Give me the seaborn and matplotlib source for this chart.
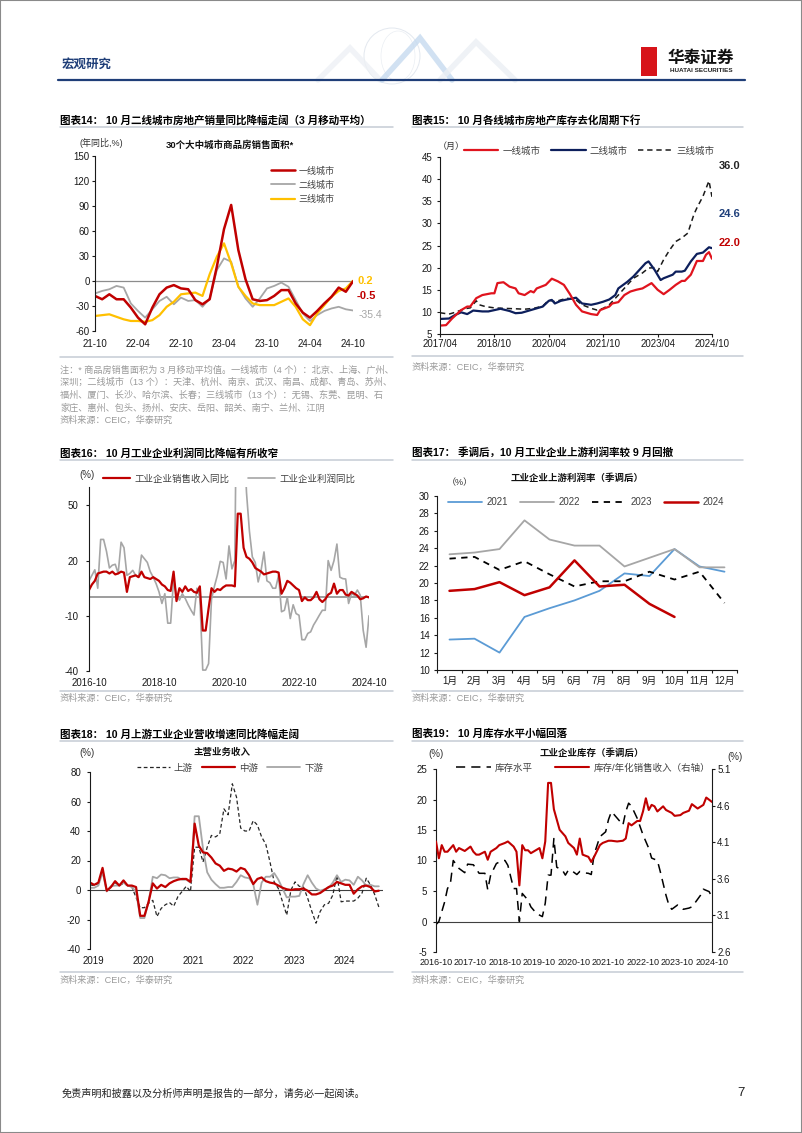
import matplotlib
matplotlib.use("Agg")
import matplotlib.pyplot as plt
import seaborn as sns
import numpy as np
from matplotlib.lines import Line2D
from matplotlib.patches import Rectangle, Ellipse

# ---------------- data ----------------
# 图表14: 30个大中城市商品房销售面积 (年同比, 3月移动平均), 2021-10 .. 2024-10
c14_ticks = ['21-10', '22-04', '22-10', '23-04', '23-10', '24-04', '24-10']
c14_tier1 = [-18, -22, -16, -22, -22, -32, -44, -52, -32, -16, -8, -5, -9, -10, -23, -28, -22, 17, 62,
             91, 37, 2, -22, -24, -23, -18, -11, -11, -27, -38, -44, -36, -27, -19, -8, -13, -0.5]
c14_tier2 = [-15, -12, -10, -6, -8, -27, -36, -44, -34, -24, -19, -28, -20, -24, -23, -31, -21, 13, 27,
             23, -7, -21, -31, -21, -9, -6, -2, -7, -23, -39, -48, -41, -36, -33, -31, -34, -35.4]
c14_tier3 = [-42, -41, -40, -43, -46, -48, -48, -49, -47, -41, -31, -25, -16, -15, -14, -18, 8, 29, 45,
             21, -7, -18, -27, -29, -29, -29, -25, -21, -31, -46, -53, -39, -29, -19, -12, -9, 0.2]

# 图表15: 库存去化周期 (月), month offset from 2017-04
c15_ticks = ['2017/04', '2018/10', '2020/04', '2021/10', '2023/04', '2024/10']
c15_t1_m = [0, 2, 4, 7, 9, 10, 12, 14, 17, 18, 19, 21, 23, 25, 26, 28, 30, 31, 32, 35, 37, 39, 41, 43, 45,
            47, 50, 52, 53, 56, 57, 59, 61, 63, 65, 67, 68, 70, 72, 74, 76, 78, 80, 81, 83, 85, 87, 88, 89, 90]
c15_t1_v = [6.9, 7.0, 8.5, 10.4, 11.2, 11.2, 13.1, 13.8, 14.2, 14.2, 16.5, 16.7, 15.7, 15.3, 14.2, 13.8,
            14.7, 14.4, 15.3, 16.1, 17.5, 16.9, 16.1, 14.0, 11.6, 10.1, 9.5, 9.3, 10.4, 11.2, 11.9, 12.2,
            13.8, 14.6, 15.0, 15.3, 15.7, 16.5, 15.0, 14.0, 15.0, 16.1, 17.0, 17.0, 18.4, 21.5, 21.5, 22.9,
            23.5, 22.0]
c15_t2_m = [0, 3, 5, 7, 9, 11, 14, 16, 18, 20, 23, 25, 27, 29, 31, 34, 36, 37, 38, 40, 42, 45, 47, 50, 52,
            54, 56, 58, 59, 62, 64, 66, 68, 69, 71, 73, 74, 77, 78, 80, 81, 83, 85, 87, 89, 90]
c15_t2_v = [8.4, 8.5, 9.3, 9.9, 9.5, 10.3, 10.1, 10.1, 10.4, 10.7, 10.2, 9.7, 9.8, 10.2, 10.6, 11.2, 12.5,
            12.7, 11.9, 12.5, 12.8, 13.2, 11.9, 11.6, 11.9, 12.3, 12.8, 13.8, 15.3, 16.8, 18.0, 19.5, 21.0,
            21.4, 19.5, 17.2, 17.6, 18.4, 19.1, 19.1, 19.3, 21.4, 23.1, 23.4, 24.6, 24.4]
c15_t3_m = [0, 3, 5, 7, 9, 10, 12, 13, 15, 18, 21, 25, 28, 31, 34, 36, 38, 40, 42, 45, 47, 50, 52, 54, 56,
            59, 62, 64, 67, 69, 71, 72, 74, 76, 78, 80, 82, 84, 85, 87, 89, 90]
c15_t3_v = [9.8, 9.5, 9.9, 10.4, 10.8, 10.9, 12.5, 11.6, 11.2, 10.9, 10.8, 10.7, 10.6, 10.8, 11.3, 12.7,
            12.3, 12.7, 13.1, 12.7, 11.6, 10.8, 10.4, 10.8, 11.6, 13.8, 16.1, 17.6, 18.8, 19.9, 20.0, 19.1,
            21.8, 24.0, 25.9, 26.7, 27.8, 32.0, 33.5, 36.1, 39.6, 36.0]
c15_end = ['22.0', '24.6', '36.0']

# 图表16: 工业企业销售收入/利润同比 (%), monthly 2016-10 .. 2024-10
c16_ticks = ['2016-10', '2018-10', '2020-10', '2022-10', '2024-10']
c16_rev = [4, 7, 9, 13, 13.5, 14, 14, 13, 14, 12.5, 13, 14, 13.5, 3, 11, 11.5, 12, 11, 14, 11,
           10.5, 10, 11, 10, 9, 7, 6, 4, 3.5, 14, -2, 5, 3, 6, 3.5, 4.5, 3, 2.5, 6, -18,
           -18, -6, 5, 3, 4.5, 4, 5.5, 6.5, 6.5, 6.5, 6, 45.5, 45.5, 27, 22, 21, 19, 16, 15, 14,
           12.5, 13, 13.5, 14, 14, 13.5, 2, 5, 9, 8, 6.5, 5, 4, -2, 0, -1.5, -1.5, 0, 3, -1,
           -2.5, -1, 1.5, 2.5, 7.5, 2, 4, 4, 1.5, 1, 3, 2, 1, -1, -0.5, 0.5, 0]
c16_profit = [9, 12, 15, 5, 31.5, 31.5, 25, 16, 17.5, 18, 13, 30, 27, 12, 13, 14.7, 12, 11, 23, 21,
              19, 14, 11, 7.5, 3, -3.3, 2, -14, -14, 10, 1, -1.5, 2, -0.6, -4, -7, -9.6, 5, 0, -39.5,
              -39.5, -36, -1, 6, 12, 19.6, 19, 10, 28, 15.5, 20, 178, 178, 92, 57, 36, 22, 19, 8.4, 14.7,
              24.7, 9, 8, 5, 5, 12, -7.8, -7, 0, -11.5, -4, -8.8, -9.7, -23, -23, -19.6, -18.7, -15, -12.4, -9.6,
              -7, -7, 20, 14.7, 20, 29, 11, 10.2, 10, -3.3, 2, 1.2, 4, 1.2, -17.8, -27.1, -10]

# 图表17: 工业企业上游利润率 (季调后, %)
c17_months = ['1月', '2月', '3月', '4月', '5月', '6月', '7月', '8月', '9月', '10月', '11月', '12月']
c17_2021 = [13.5, 13.6, 12.0, 16.1, 17.1, 18.0, 19.1, 21.1, 20.8, 23.9, 21.9, 21.3]
c17_2022 = [23.3, 23.5, 23.9, 27.2, 25.0, 24.3, 24.3, 21.9, 22.9, 23.9, 21.8, 21.8]
c17_2023 = [22.8, 23.0, 21.5, 22.5, 21.0, 19.6, 20.2, 20.2, 21.3, 20.4, 21.3, 17.7]
c17_2024 = [19.1, 19.3, 20.1, 18.6, 19.5, 22.6, 19.6, 19.8, 17.6, 16.1]

# 图表18: 主营业务收入同比 (%), monthly 2019-01 .. 2024-10
c18_years = ['2019', '2020', '2021', '2022', '2023', '2024']
c18_up = [3.5, 3, 4.5, 14, -0.5, 2.5, 5, 3, 4.5, 3, 2, -5, -12, -12, -9, -7, -18, -12.5, -10, -8.5,
          -11, -4.5, -1, 2.5, -1, 29, 29, 19, 29, 37, 36, 38, 55, 51, 72, 63, 42, 40, 40, 47,
          44, 36, 31, 19, 5.5, 1, -8, -17, 0, 5.5, 2.5, 2, -5.5, -14.5, -22.5, -14.5, -10, -9, -3.5, 10,
          -8, -7.5, -7.5, -7.5, -5.5, -2, 8, 3.5, -3, -11.5]
c18_mid = [5, 3.5, 5, 15, -0.5, 2, 6, 3, 6.5, 3, 3, 2, -17.5, -17.5, -8, 4.5, 1, 3.5, 2, 4.5,
           6, 7, 7.5, 7.5, 5.5, 45, 30, 25.5, 25, 22, 18, 16.5, 13, 14.5, 14, 12.5, 15, 14, 10, 4,
           7.5, 8.5, 6, 5, 4.5, 3, 1.5, 0.5, 0, 0.5, 0.5, 1, -0.5, -3, -3, -2, 0, 2, 3, 5.5,
           4.5, 3.5, 3.5, -2.5, 0.5, 2.5, 3, 2, -1, -0.5]
c18_down = [1.5, 1.5, 3, 12, -1, 2.5, 3, 3, 5, 3, 2, -1, -19, -19, -8, 9, 8, 10.5, 10, 8,
            8.5, 8.5, 7, 7, 5, 50, 50, 28, 12, 7, 4, 1.5, 1.5, 2, 2, 5.5, 10, 8.5, 8, 4,
            -10, 5, 9, 9, 11.5, 7, 1, -5, -4.5, -4.5, -4, 4, 10, 5, 1, -0.5, 0.5, 1.5, 5, 10,
            5.5, 7, 6.5, 3.5, 9, 6.5, 3, 3.5, 2.5, 2.5]

# 图表19: 工业企业库存 (季调后), month offset from 2016-10
c19_ticks = ['2016-10', '2017-10', '2018-10', '2019-10', '2020-10', '2021-10', '2022-10', '2023-10', '2024-10']
c19_inv_m = [0, 1, 2, 3, 4, 5, 6, 8, 10, 11, 13, 15, 17, 18, 19, 21, 23, 24, 25, 27, 28, 29, 30, 32, 33,
             35, 37, 38, 39, 40, 41, 42, 44, 45, 46, 47, 49, 50, 51, 53, 54, 55, 57, 58, 59, 60, 61, 62,
             64, 65, 66, 67, 68, 70, 72, 74, 75, 77, 78, 80, 81, 82, 84, 85, 86, 88, 89, 90, 92, 93, 95, 96]
c19_inv_v = [-0.5, 0, 1.6, 3.2, 5.4, 6.2, 10.0, 8.7, 8.0, 9.4, 9.3, 7.9, 7.9, 5.2, 7.6, 9.5, 10.0, 10.0,
             9.2, 5.4, 5.4, 0.0, 4.6, 3.5, 2.4, 1.3, 0.8, 3.0, 7.6, 7.6, 13.6, 8.9, 8.4, 7.6, 8.4, 8.4,
             7.7, 8.2, 8.0, 7.9, 7.7, 11.0, 13.9, 14.3, 14.7, 16.7, 18.0, 17.5, 16.4, 15.8, 18.0, 19.4,
             18.9, 16.9, 14.2, 12.0, 10.4, 10.0, 8.2, 4.3, 2.7, 2.0, 2.7, 2.4, 2.0, 2.2, 2.4, 3.0, 4.3,
             5.3, 4.9, 4.0]
c19_ratio_m = [0, 1, 2, 3, 4, 6, 7, 8, 10, 12, 13, 14, 15, 17, 18, 19, 21, 22, 24, 25, 27, 28, 29, 30, 31,
               32, 33, 36, 37, 38, 39, 40, 41, 43, 45, 46, 48, 49, 50, 51, 53, 54, 55, 57, 58, 60, 61, 63,
               65, 66, 67, 68, 69, 70, 71, 72, 73, 74, 75, 76, 77, 79, 80, 82, 83, 85, 86, 88, 89, 91, 93,
               94, 95, 96]
c19_ratio_v = [4.11, 3.88, 4.06, 3.97, 3.97, 4.06, 3.97, 4.02, 3.98, 4.04, 3.97, 3.93, 3.93, 3.97, 3.86,
               3.97, 4.02, 4.06, 4.09, 4.11, 4.04, 3.97, 3.51, 4.06, 3.99, 3.99, 3.95, 4.02, 3.88, 4.11,
               4.91, 4.91, 4.55, 4.27, 4.18, 4.09, 4.02, 3.93, 4.15, 3.93, 3.90, 3.83, 3.90, 4.06, 4.09,
               4.12, 4.12, 4.11, 4.12, 4.15, 4.36, 4.33, 4.36, 4.39, 4.39, 4.52, 4.70, 4.54, 4.61, 4.59,
               4.52, 4.59, 4.54, 4.50, 4.46, 4.47, 4.50, 4.53, 4.62, 4.56, 4.61, 4.71, 4.68, 4.65]
c19_right = [2.6, 3.1, 3.6, 4.1, 4.6, 5.1]

# ---------------- page setup ----------------
sns.set_theme(style="white")
plt.rcParams['font.family'] = ['Liberation Sans', 'Noto Sans CJK SC', 'DejaVu Sans']
plt.rcParams['axes.unicode_minus'] = False

INK = '#1a1a1a'
RED = '#C00000'
GRAY = '#A6A6A6'
W, H = 802, 1133
fig = plt.figure(figsize=(W / 100, H / 100), dpi=100)
fig.patch.set_facecolor('white')


def fx(x):
    return x / W


def fy(y):
    return 1 - y / H


def panel(x0, y0, x1, y1):
    return fig.add_axes([fx(x0), fy(y1), (x1 - x0) / W, (y1 - y0) / H])


def put(x, y, s, size=6.8, color='#333333', ha='left', weight='normal'):
    fig.text(fx(x), fy(y), s, fontsize=size, color=color, ha=ha, va='center', fontweight=weight)


def rule(x0, x1, y, color='#C5CBD5', lw=1.1):
    fig.add_artist(Line2D([fx(x0), fx(x1)], [fy(y), fy(y)], color=color, lw=lw))


def frame(ax, xlim, ylim, yticks, ypad, xpad, bottom=False):
    ax.set_xlim(*xlim)
    ax.set_ylim(*ylim)
    ax.set_yticks(yticks)
    ax.set_xlabel('')
    ax.set_ylabel('')
    ax.grid(False)
    ax.set_facecolor('white')
    for side in ['top', 'right']:
        ax.spines[side].set_visible(False)
    ax.spines['bottom'].set_visible(bottom)
    for side in ['left', 'bottom']:
        ax.spines[side].set_color(INK)
        ax.spines[side].set_linewidth(0.8)
    ax.tick_params(axis='y', left=True, length=2.2, width=0.8, color=INK,
                   labelsize=7, labelcolor=INK, pad=ypad)
    ax.tick_params(axis='x', bottom=bottom, length=2.2 if bottom else 0, width=0.8, color=INK,
                   labelsize=7, labelcolor=INK, pad=xpad)


def legend_at(ax, handles, cx, cy, ncol, hl, cs, size=6.8, spacing=0.5):
    ax.legend(handles=handles, loc='center', bbox_to_anchor=(fx(cx), fy(cy)),
              bbox_transform=fig.transFigure, ncol=ncol, frameon=False, fontsize=size,
              handlelength=hl, handletextpad=0.4, columnspacing=cs, labelspacing=spacing,
              labelcolor='#404040', borderpad=0)


# page frame and header
fig.add_artist(Rectangle((0, 0), 1, 1, transform=fig.transFigure, fill=False,
                         edgecolor='#8a8a8a', lw=1.5))
fig.add_artist(Ellipse((fx(392), fy(56)), 56 / W, 56 / H, transform=fig.transFigure,
                       fill=False, edgecolor='#E3E8EF', lw=0.7))
fig.add_artist(Ellipse((fx(398), fy(56)), 34 / W, 50 / H, transform=fig.transFigure,
                       fill=False, edgecolor='#EAEEF3', lw=0.5))
for xs, ys, col in [([318, 350, 380], [80, 48, 80], '#EEF1F5'),
                    ([382, 420, 452], [80, 38, 80], '#C6DAEF'),
                    ([440, 476, 515], [80, 42, 80], '#EBEFF4')]:
    fig.add_artist(Line2D([fx(v) for v in xs], [fy(v) for v in ys], color=col, lw=4,
                          solid_joinstyle='miter', alpha=0.8))
put(62, 65, '宏观研究', size=9, color='#1F3E78', weight='bold')
rule(58, 745, 80, color='#1F3E78', lw=1.6)
fig.add_artist(Rectangle((fx(641), fy(76)), 16 / W, 29 / H, transform=fig.transFigure,
                         facecolor='#D7141A', edgecolor='none'))
put(701, 58, '华泰证券', size=12, color='#111111', ha='center', weight='bold')
put(701, 71, 'HUATAI SECURITIES', size=4.6, color='#222222', ha='center', weight='bold')

# ---------------- 图表14 ----------------
put(60, 120, '图表14： 10 月二线城市房地产销量同比降幅走阔（3 月移动平均）', size=7.6, color='#000000', weight='bold')
rule(60, 393, 126.5)
put(80, 143, '(年同比,%)', size=6.5)
put(230, 145, '30个大中城市商品房销售面积*', size=6.8, color='#111111', ha='center', weight='bold')
ax = panel(95, 155.7, 353, 331)
x14 = np.arange(len(c14_tier1))
ax.axhline(0, color='#8c8c8c', lw=0.9, zorder=1)
sns.lineplot(x=x14, y=c14_tier2, ax=ax, color=GRAY, linewidth=1.3, label='二线城市', legend=False)
sns.lineplot(x=x14, y=c14_tier3, ax=ax, color='#FFC000', linewidth=1.6, label='三线城市', legend=False)
sns.lineplot(x=x14, y=c14_tier1, ax=ax, color=RED, linewidth=1.8, label='一线城市', legend=False)
frame(ax, (0, 36), (-60, 150), range(-60, 151, 30), ypad=1.5, xpad=5.5)
ax.set_xticks(np.arange(len(c14_ticks)) * 6)
ax.set_xticklabels(c14_ticks)
h = ax.get_lines()
legend_at(ax, [h[3], h[1], h[2]], 303, 185, 1, 2.6, 1.0, size=6.5, spacing=0.55)
for series, col, dy, bold in [(c14_tier3, '#FFC000', 0, True), (c14_tier1, RED, -15, True),
                              (c14_tier2, GRAY, -5, False)]:
    ax.annotate(f'{series[-1]}', xy=(x14[-1], series[-1]), xytext=(4 if bold else 6, dy),
                textcoords='offset pixels', va='center', ha='left', color=col,
                fontsize=8 if bold else 7.5, fontweight='bold' if bold else 'normal',
                annotation_clip=False)

rule(60, 393, 357)
notes = ['注：* 商品房销售面积为 3 月移动平均值。一线城市（4 个）：北京、上海、广州、',
         '深圳；二线城市（13 个）：天津、杭州、南京、武汉、南昌、成都、青岛、苏州、',
         '福州、厦门、长沙、哈尔滨、长春；三线城市（13 个）：无锡、东莞、昆明、石',
         '家庄、惠州、包头、扬州、安庆、岳阳、韶关、南宁、兰州、江阴',
         '资料来源：CEIC，华泰研究']
for i, line in enumerate(notes):
    put(60, 370 + 12.5 * i, line, size=6.6, color='#9a9a9a')

# ---------------- 图表15 ----------------
put(412, 120, '图表15： 10 月各线城市房地产库存去化周期下行', size=7.6, color='#000000', weight='bold')
rule(412, 743, 126.5)
put(438, 146, '（月）', size=6.5)
ax = panel(440, 157, 712, 334)
sns.lineplot(x=c15_t3_m, y=c15_t3_v, ax=ax, color=INK, linewidth=1.1, linestyle='--',
             label='三线城市', legend=False)
ax.get_lines()[-1].set_dashes([3.5, 2.5])
sns.lineplot(x=c15_t2_m, y=c15_t2_v, ax=ax, color='#0D1F5C', linewidth=1.6, label='二线城市', legend=False)
sns.lineplot(x=c15_t1_m, y=c15_t1_v, ax=ax, color='#E0141E', linewidth=1.6, label='一线城市', legend=False)
frame(ax, (0, 90), (5, 45), range(5, 46, 5), ypad=3.5, xpad=1.5, bottom=True)
ax.set_xticks(np.arange(len(c15_ticks)) * 18)
ax.set_xticklabels(c15_ticks)
h = ax.get_lines()
legend_at(ax, [h[2], h[1], h[0]], 589, 151, 3, 3.7, 1.1)
for mm, vv, txt, col, dy in [(c15_t3_m, c15_t3_v, c15_end[2], '#262626', 31),
                             (c15_t2_m, c15_t2_v, c15_end[1], '#1F3F7A', 34),
                             (c15_t1_m, c15_t1_v, c15_end[0], RED, 16)]:
    ax.annotate(txt, xy=(mm[-1], vv[-1]), xytext=(7, dy), textcoords='offset pixels',
                va='center', ha='left', color=col, fontsize=8, fontweight='bold',
                annotation_clip=False)
rule(412, 743, 356)
put(412, 367, '资料来源：CEIC，华泰研究', size=6.6, color='#9a9a9a')

# ---------------- 图表16 ----------------
put(60, 453, '图表16： 10 月工业企业利润同比降幅有所收窄', size=7.6, color='#000000', weight='bold')
rule(60, 393, 460)
put(79, 475, '(%)', size=7)
ax = panel(89, 487, 369, 671)
x16 = np.arange(len(c16_rev))
ax.axhline(0, color='#8c8c8c', lw=1.2, zorder=1)
sns.lineplot(x=x16, y=c16_profit, ax=ax, color=GRAY, linewidth=1.2, label='工业企业利润同比', legend=False)
sns.lineplot(x=x16, y=c16_rev, ax=ax, color=RED, linewidth=1.6, label='工业企业销售收入同比', legend=False)
frame(ax, (0, 96), (-40, 60), [-40, -10, 20, 50], ypad=5.5, xpad=5)
ax.set_xticks(np.arange(len(c16_ticks)) * 24)
ax.set_xticklabels(c16_ticks)
h = ax.get_lines()
legend_at(ax, [h[2], h[1]], 229, 479, 2, 2.9, 2.0)
rule(60, 393, 691)
put(60, 698, '资料来源：CEIC，华泰研究', size=6.6, color='#9a9a9a')

# ---------------- 图表17 ----------------
put(412, 453, '图表17： 季调后，10 月工业企业上游利润率较 9 月回撤', size=7.6, color='#000000', weight='bold')
rule(412, 743, 460)
put(577, 478, '工业企业上游利润率（季调后）', size=6.8, color='#111111', ha='center', weight='bold')
put(447, 483, '（%）', size=6.5)
ax = panel(437, 496, 737, 670)
sns.lineplot(x=np.arange(12), y=c17_2021, ax=ax, color='#5B9BD5', linewidth=1.3, label='2021', legend=False)
sns.lineplot(x=np.arange(12), y=c17_2022, ax=ax, color=GRAY, linewidth=1.3, label='2022', legend=False)
sns.lineplot(x=np.arange(12), y=c17_2023, ax=ax, color='#000000', linewidth=1.3, linestyle='--',
             label='2023', legend=False)
ax.get_lines()[-1].set_dashes([3.5, 3])
sns.lineplot(x=np.arange(len(c17_2024)), y=c17_2024, ax=ax, color=RED, linewidth=1.8, label='2024', legend=False)
frame(ax, (-0.5, 11.5), (10, 30), range(10, 31, 2), ypad=3, xpad=4.3, bottom=True)
ax.set_xticks(np.arange(12))
ax.set_xticklabels(c17_months)
ax.tick_params(axis='x', length=0)
ax.set_xticks(np.arange(-0.5, 12, 1), minor=True)
ax.tick_params(axis='x', which='minor', bottom=True, length=2.2, width=0.8, color=INK)
legend_at(ax, ax.get_lines(), 586, 502, 4, 3.5, 1.3, size=7)
rule(412, 743, 691)
put(412, 698, '资料来源：CEIC，华泰研究', size=6.6, color='#9a9a9a')

# ---------------- 图表18 ----------------
put(60, 734, '图表18： 10 月上游工业企业营收增速同比降幅走阔', size=7.6, color='#000000', weight='bold')
rule(60, 393, 741)
put(222, 752, '主营业务收入', size=6.8, color='#111111', ha='center', weight='bold')
put(79, 753, '(%)', size=7)
ax = panel(90, 772, 383, 949)
x18 = np.arange(len(c18_up))
ax.axhline(0, color='#404040', lw=0.8, zorder=1)
sns.lineplot(x=x18, y=c18_up, ax=ax, color='#262626', linewidth=0.9, linestyle='--', label='上游', legend=False)
ax.get_lines()[-1].set_dashes([3, 2])
sns.lineplot(x=x18, y=c18_down, ax=ax, color=GRAY, linewidth=1.3, label='下游', legend=False)
sns.lineplot(x=x18, y=c18_mid, ax=ax, color=RED, linewidth=1.6, label='中游', legend=False)
frame(ax, (0, 70), (-40, 80), range(-40, 81, 20), ypad=4.3, xpad=5)
ax.set_xticks(np.arange(len(c18_years)) * 12 + 0.7)
ax.set_xticklabels(c18_years)
h = ax.get_lines()
legend_at(ax, [h[1], h[3], h[2]], 230, 768, 3, 3.5, 1.0)
rule(60, 393, 972)
put(60, 980, '资料来源：CEIC，华泰研究', size=6.6, color='#9a9a9a')

# ---------------- 图表19 ----------------
put(412, 734, '图表19： 10 月库存水平小幅回落', size=7.6, color='#000000', weight='bold')
rule(412, 743, 741)
put(592, 753, '工业企业库存（季调后）', size=6.8, color='#111111', ha='center', weight='bold')
put(428, 754, '(%)', size=7)
put(727, 757, '(%)', size=7)
ax = panel(436, 769, 712, 952)
ax.axhline(0, color='#404040', lw=0.8, zorder=1)
sns.lineplot(x=c19_inv_m, y=c19_inv_v, ax=ax, color='#000000', linewidth=1.1, linestyle='--',
             label='库存水平', legend=False)
ax.get_lines()[-1].set_dashes([6, 4])
frame(ax, (0, 96), (-5, 25), range(-5, 26, 5), ypad=4.3, xpad=4.3)
ax.set_xticks(np.arange(len(c19_ticks)) * 12)
ax.set_xticklabels(c19_ticks, fontsize=6.5)
ax2 = ax.twinx()
sns.lineplot(x=c19_ratio_m, y=c19_ratio_v, ax=ax2, color=RED, linewidth=1.5,
             label='库存/年化销售收入（右轴）', legend=False)
ax2.set_ylim(2.6, 5.1)
ax2.set_yticks(c19_right)
ax2.set_yticklabels([f'{v:.1f}' for v in c19_right])
ax2.set_ylabel('')
ax2.grid(False)
for side in ['top', 'left', 'bottom']:
    ax2.spines[side].set_visible(False)
ax2.spines['right'].set_color(INK)
ax2.spines['right'].set_linewidth(0.8)
ax2.tick_params(axis='y', right=True, length=2.2, width=0.8, color=INK, labelsize=7,
                labelcolor=INK, pad=1.5)
legend_at(ax2, [ax.get_lines()[-1], ax2.get_lines()[-1]], 583, 768, 2, 3.7, 2.3)
rule(412, 743, 972)
put(412, 980, '资料来源：CEIC，华泰研究', size=6.6, color='#9a9a9a')

# footer
put(62, 1093, '免责声明和披露以及分析师声明是报告的一部分，请务必一起阅读。', size=7.3, color='#222222')
put(745, 1093, '7', size=9.5, color='#222222', ha='right')

fig.savefig('out.png', dpi=100)
